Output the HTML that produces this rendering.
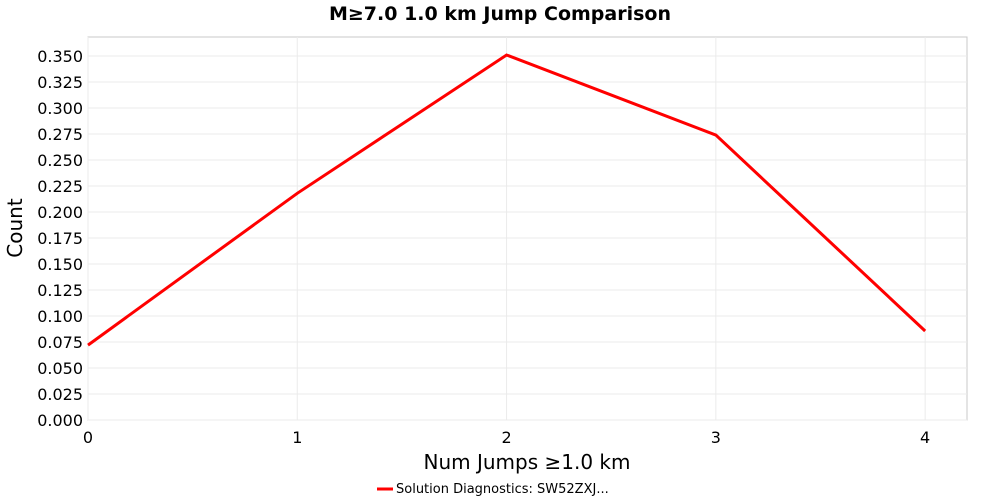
<!DOCTYPE html>
<html><head><meta charset="utf-8"><style>
body{margin:0;background:#fff;font-family:"DejaVu Sans",sans-serif}
</style></head><body>
<svg id="c" width="1000" height="500" xmlns="http://www.w3.org/2000/svg" font-family="DejaVu Sans, sans-serif"></svg>
<script>
const xCats=[0,1,2,3,4];
const seriesVals=[0.072,0.218,0.351,0.274,0.0856];
const yTicks=[0,0.025,0.05,0.075,0.1,0.125,0.15,0.175,0.2,0.225,0.25,0.275,0.3,0.325,0.35];
const xTicks=[0,1,2,3,4];
const L=88,R=967,T=37,B=420,xMax=4.2,yMax=0.3683;
const X=v=>L+(R-L)*v/xMax, Y=v=>B-(B-T)*v/yMax;
const s=document.getElementById('c'),NS='http://www.w3.org/2000/svg';
function mk(t,a,p){const e=document.createElementNS(NS,t);for(const k in a)e.setAttribute(k,a[k]);(p||s).appendChild(e);return e;}
let r=mk('rect',{x:L,y:T,width:R-L,height:B-T,fill:'#fff',stroke:'#c8c8c8'});


yTicks.forEach(v=>{
 let g=mk('line',{x1:L,x2:R,y1:Y(v),y2:Y(v),stroke:'#ebebeb'});
 
 
 let t=mk('text',{x:L-5,y:Y(v)+6,'text-anchor':'end','font-size':16,fill:'#000'});
 t.textContent=v.toFixed(3);
 
 
});
xTicks.forEach(v=>{
 let g=mk('line',{x1:X(v),x2:X(v),y1:T,y2:B,stroke:'#ebebeb'});
 
 
 let t=mk('text',{x:X(v),y:B+23,'text-anchor':'middle','font-size':16,fill:'#000'});
 t.textContent=v;
 
 
});
let p=mk('polyline',{points:xCats.map((x,i)=>X(x)+','+Y(seriesVals[i])).join(' '),fill:'none',stroke:'#ff0000','stroke-width':3});


let ti=mk('text',{x:500,y:20,'text-anchor':'middle','font-size':19,'font-weight':'bold'});
ti.textContent='M≥7.0 1.0 km Jump Comparison';


let xt=mk('text',{x:527,y:469,'text-anchor':'middle','font-size':20});
xt.textContent='Num Jumps ≥1.0 km';


let yt=mk('text',{x:22,y:228,'text-anchor':'middle','font-size':20,transform:'rotate(-90 22 228)'});
yt.textContent='Count';


let lg=mk('line',{x1:377,x2:393,y1:489,y2:489,stroke:'#ff0000','stroke-width':3});


let lt=mk('text',{x:396,y:493,'font-size':13});
lt.textContent='Solution Diagnostics: SW52ZXJ...';


</script>
</body></html>
